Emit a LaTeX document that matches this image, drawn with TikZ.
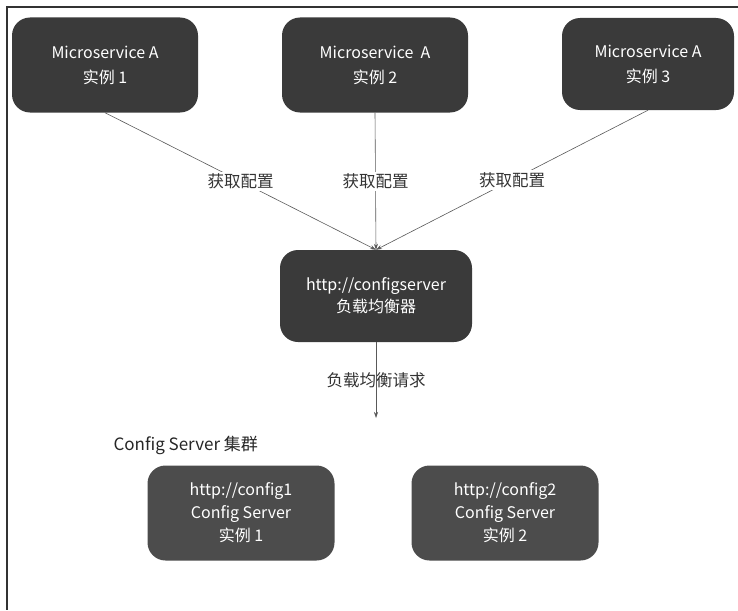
\documentclass[tikz,border=0pt]{standalone}
\usepackage{fontspec}
\setmainfont{Noto Sans CJK SC}
\usetikzlibrary{arrows.meta, positioning}
\definecolor{boxdark}{HTML}{3A3A3A}
\definecolor{boxmid}{HTML}{4C4C4C}
\tikzset{
    service/.style={rectangle, rounded corners=18pt, fill=boxdark, text=white, align=center, minimum width=186pt, minimum height=95pt, font=\fontsize{16}{25}\selectfont},
    server/.style={rectangle, rounded corners=18pt, fill=boxmid, text=white, align=center, minimum width=187pt, minimum height=95pt, font=\fontsize{16}{23}\selectfont},
    fetch/.style={-{Stealth[length=6pt, width=4pt]}, line width=0.6pt, draw=black!65},
    linklabel/.style={fill=white, inner sep=2pt, text=black!80, font=\fontsize{16.5}{18}\selectfont}
}

\begin{document}
\begin{tikzpicture}[x=1pt, y=-1pt]

    \useasboundingbox (0,0) rectangle (738,610);

    % cornice
    \draw[line width=1.4pt, black!80] (738,7) -- (7,7) -- (7,610);

    % istanze del microservizio
    \node[service] (msA1) at (105,65) {Microservice A\\实例 1};
    \node[service] (msA2) at (375,65) {Microservice\ \ A\\实例 2};
    \node[service, minimum width=172pt, minimum height=92pt] (msA3) at (648,64) {Microservice A\\实例 3};

    % bilanciatore
    \node[service, minimum width=192pt, minimum height=92pt, font=\fontsize{16}{22}\selectfont] (lb) at (376,296) {http://configserver\\负载均衡器};

    % richieste di configurazione
    \draw[fetch] (msA1.south) -- node[linklabel] {获取配置} (lb.north);
    \draw[fetch] (msA2.south) -- node[linklabel] {获取配置} (lb.north);
    \draw[fetch] (msA3.south) -- node[linklabel] {获取配置} (lb.north);

    % richiesta bilanciata
    \coordinate (lbend) at (376,418);
    \draw[fetch] (lb.south) -- node[linklabel, fill=none] {负载均衡请求} (lbend);

    % cluster
    \node[anchor=west, text=black!85, font=\fontsize{17}{19}\selectfont] (cluster) at (110,445) {Config Server 集群};
    \node[server] (cs1) at (241,513) {http://config1\\Config Server\\实例 1};
    \node[server] (cs2) at (505,513) {http://config2\\Config Server\\实例 2};

\end{tikzpicture}
\end{document}
